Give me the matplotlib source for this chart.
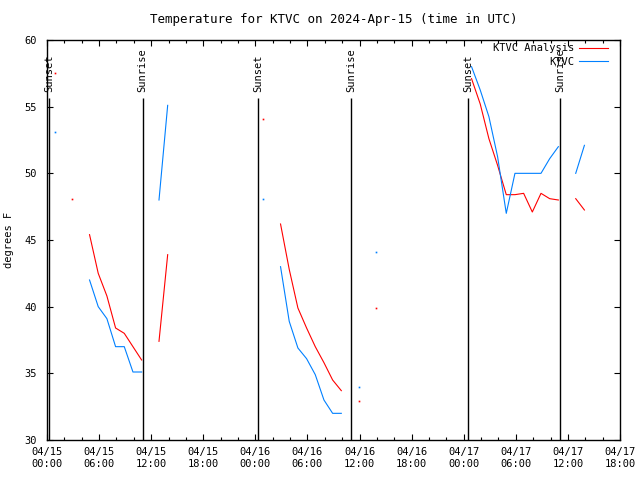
import numpy as np
import pandas as pd
import matplotlib
matplotlib.use("Agg")
import matplotlib.pyplot as plt
import matplotlib.dates as mdates

nan = np.nan

# hourly observations (xx:54 UTC), starting 2024-04-15 00:54
times = pd.date_range("2024-04-15 00:54", periods=62, freq="h")

analysis = [57.5, nan, 48.1, nan, 45.4, 42.5, 40.8, 38.4, 38.0, 37.0,
            36.0, nan, 37.4, 43.9, nan, nan, nan, nan, nan, nan,
            nan, nan, nan, nan, 54.1, nan, 46.2, 42.8, 39.9, 38.4,
            37.0, 35.8, 34.5, 33.7, nan, 32.9, nan, 39.9, nan, nan,
            nan, nan, nan, nan, nan, nan, nan, nan, 57.1, 55.2,
            52.6, 50.6, 48.4, 48.4, 48.5, 47.1, 48.5, 48.1, 48.0, nan,
            48.1, 47.25]

observed = [53.1, nan, nan, nan, 42.0, 40.0, 39.1, 37.0, 37.0, 35.1,
            35.1, nan, 48.0, 55.1, nan, nan, nan, nan, nan, nan,
            nan, nan, nan, nan, 48.05, nan, 43.0, 38.9, 36.9, 36.1,
            34.9, 33.0, 32.0, 32.0, nan, 33.95, nan, 44.1, nan, nan,
            nan, nan, nan, nan, nan, nan, nan, nan, 58.0, 56.25,
            54.25, 51.25, 47.0, 50.0, 50.0, 50.0, 50.0, 51.1, 52.0, nan,
            50.0, 52.1]

sunset = pd.to_datetime(["2024-04-15 00:16", "2024-04-16 00:21", "2024-04-17 00:32"])
sunrise = pd.to_datetime(["2024-04-15 11:00", "2024-04-16 11:03", "2024-04-17 11:06"])

plt.rcParams['font.family'] = ['DejaVu Sans Mono']
plt.rcParams['font.size'] = 7.5

fig = plt.figure(figsize=(6.4, 4.8), dpi=100)
ax = fig.add_axes([47/640, 40/480, 573/640, 400/480])


def isolated(vals):
    v = np.asarray(vals, dtype=float)
    ok = ~np.isnan(v)
    prev = np.r_[False, ok[:-1]]
    nxt = np.r_[ok[1:], False]
    return ok & ~prev & ~nxt


for vals, col, lab in [(analysis, '#ff0000', 'KTVC Analysis'),
                       (observed, '#0080ff', 'KTVC')]:
    ax.plot(times, vals, color=col, lw=0.8, label=lab)
    m = isolated(vals)
    ax.plot(times[m], np.asarray(vals)[m], ls='none', marker='s',
            ms=1.2, mew=0, color=col)

# sunrise / sunset markers
ax.vlines(sunset, 30, 55.65, colors='black', lw=1)
ax.vlines(sunrise, 30, 55.65, colors='black', lw=1)
for t in sunset:
    ax.text(t, 56.1, 'Sunset', rotation=90, ha='center', va='bottom')
for t in sunrise:
    ax.text(t, 56.1, 'Sunrise', rotation=90, ha='center', va='bottom')

ax.set_xlim(pd.Timestamp("2024-04-15 00:00"), pd.Timestamp("2024-04-17 18:00"))
ax.set_ylim(30, 60)
ax.xaxis.set_major_locator(mdates.HourLocator(byhour=[0, 6, 12, 18]))
ax.xaxis.set_minor_locator(mdates.HourLocator(interval=2))
ax.xaxis.set_major_formatter(mdates.DateFormatter('%m/%d\n%H:%M'))
ax.set_yticks(np.arange(30, 61, 5))
ax.tick_params(which='both', direction='in', top=True, right=True)
ax.tick_params(which='major', length=4, width=0.8)
ax.tick_params(which='minor', length=2.5, width=0.8)
ax.tick_params(axis='x', pad=5)
ax.tick_params(axis='y', pad=7)
for s in ax.spines.values():
    s.set_linewidth(1)

ax.set_title('Temperature for KTVC on 2024-Apr-15 (time in UTC)', pad=12)
ax.set_ylabel('degrees F', labelpad=8)

ax.legend(loc='upper right', bbox_to_anchor=(0.983, 0.997), frameon=False,
          markerfirst=False, handlelength=2.8, handletextpad=0.5,
          borderaxespad=0, borderpad=0.2, labelspacing=0.35)

fig.savefig('out.png', dpi=100)
